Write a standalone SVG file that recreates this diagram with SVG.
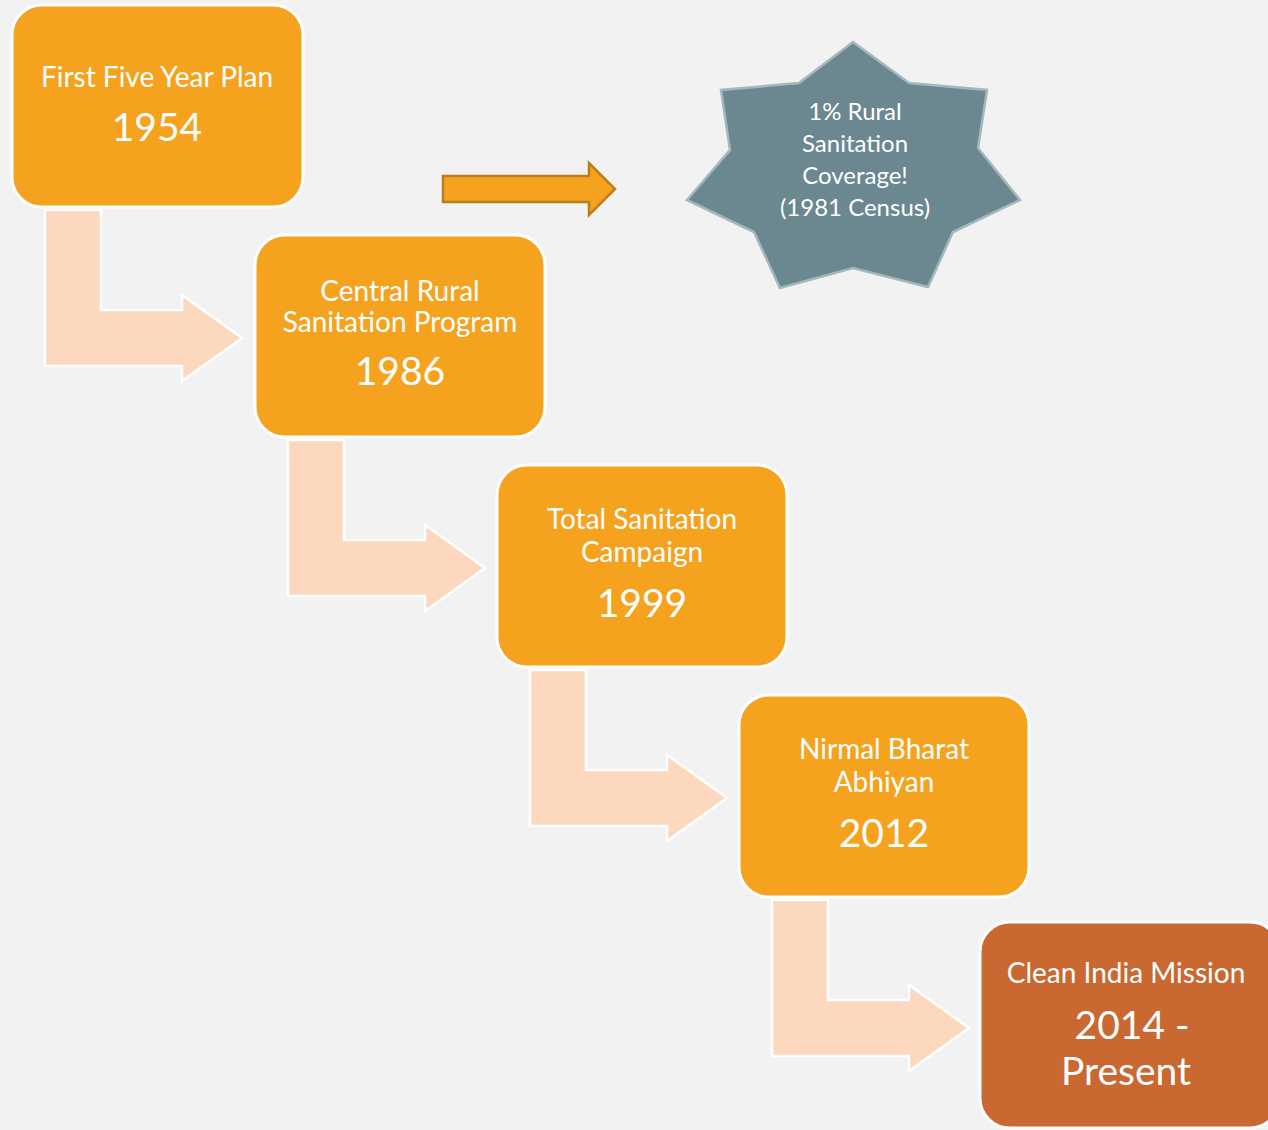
<svg xmlns="http://www.w3.org/2000/svg" width="1268" height="1130" viewBox="0 0 1268 1130">
  <style>
    .box { fill: #F5A31F; stroke: #FFFFFF; stroke-width: 3; }
    .box-final { fill: #C96830; stroke: #FFFFFF; stroke-width: 3; }
    .bend { fill: #FBD8BE; stroke: #FFFFFF; stroke-width: 2.5; }
    .label { font-family: Lato, "Open Sans", "Liberation Sans", sans-serif; fill: #FFFFFF; text-anchor: middle; }
    .title { font-size: 28px; }
    .year { font-size: 39px; }
    .star-text { font-size: 24px; }
  </style>
  <defs>
    <!-- bent connector: down from one box, then right into the next -->
    <path id="bend" d="M45,210 L101,210 L101,310 L182,310 L182,295 L242,338 L182,381 L182,366 L45,366 Z"/>
  </defs>

  <rect x="0" y="0" width="1268" height="1130" fill="#F2F2F2"/>

  <g id="connectors">
    <use href="#bend" class="bend"/>
    <use href="#bend" class="bend" transform="translate(243,230)"/>
    <use href="#bend" class="bend" transform="translate(485,460)"/>
    <use href="#bend" class="bend" transform="translate(727,690)"/>
    <path d="M443,176 L589,176 L589,163 L615,189 L589,215 L589,202 L443,202 Z" fill="#F5A31F" stroke="#C07C18" stroke-width="2.5"/>
  </g>

  <g id="node-1954">
    <rect class="box" x="12" y="5" width="291" height="202" rx="30"/>
    <text class="label title" x="157" y="87">First Five Year Plan</text>
    <text class="label year" x="157" y="141">1954</text>
  </g>

  <g id="node-1986">
    <rect class="box" x="255" y="235" width="290" height="202" rx="30"/>
    <text class="label title" x="400" y="301">Central Rural</text>
    <text class="label title" x="400" y="332">Sanitation Program</text>
    <text class="label year" x="400" y="385">1986</text>
  </g>

  <g id="node-1999">
    <rect class="box" x="497" y="465" width="290" height="202" rx="30"/>
    <text class="label title" x="642" y="529">Total Sanitation</text>
    <text class="label title" x="642" y="562">Campaign</text>
    <text class="label year" x="642" y="617">1999</text>
  </g>

  <g id="node-2012">
    <rect class="box" x="739" y="695" width="290" height="202" rx="30"/>
    <text class="label title" x="884" y="759">Nirmal Bharat</text>
    <text class="label title" x="884" y="792">Abhiyan</text>
    <text class="label year" x="884" y="847">2012</text>
  </g>

  <g id="node-2014">
    <rect class="box-final" x="980" y="922" width="300" height="206" rx="30"/>
    <text class="label title" x="1126" y="983">Clean India Mission</text>
    <text class="label year" x="1132" y="1039">2014 -</text>
    <text class="label year" x="1126" y="1085">Present</text>
  </g>

  <g id="node-census">
    <polygon points="853,42 909,83 987,90 978,148 1020,200 953,232 928,287 853,268 780,288 754,232 687,200 730,150 721,90 799,83" fill="#6B8790" stroke="#A3B7BD" stroke-width="2.5"/>
    <text class="label star-text" x="855" y="120">1% Rural</text>
    <text class="label star-text" x="855" y="152">Sanitation</text>
    <text class="label star-text" x="855" y="184">Coverage!</text>
    <text class="label star-text" x="855" y="216">(1981 Census)</text>
  </g>
</svg>
